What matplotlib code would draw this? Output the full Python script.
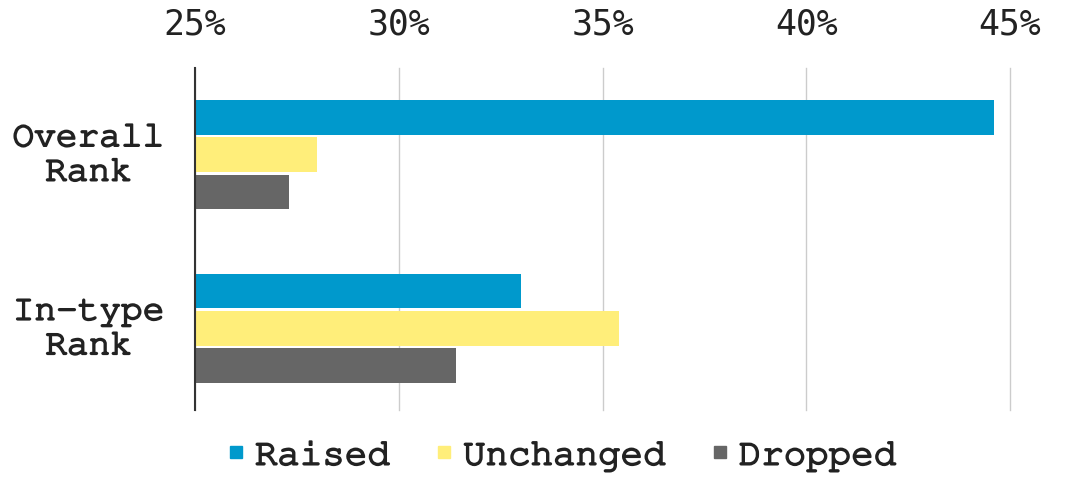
import matplotlib.pyplot as plt
import matplotlib.patheffects as pe
from matplotlib.lines import Line2D

# datos
categorias = ['Overall\nRank', 'In-type\nRank']
series = ['Raised', 'Unchanged', 'Dropped']
raised = [44.6, 33.0]
unchanged = [28.0, 35.4]
dropped = [27.3, 31.4]
colores = ['#0099cc', '#ffee7a', '#666666']
ticks_x = [25, 30, 35, 40, 45]

mono = ['Nimbus Mono PS', 'FreeMono', 'Courier New', 'Liberation Mono']
trazo = [pe.withStroke(linewidth=1.3, foreground='#222222')]

fig = plt.figure(figsize=(10.8, 5), dpi=100)
ax = fig.add_axes([0.1806, 0.18, 0.7546, 0.684])

alto = 0.2
paso = 0.215
valores = [raised, unchanged, dropped]
for i, (nombre, vals, c) in enumerate(zip(series, valores, colores)):
    ys = [k + (i - 1) * paso for k in range(len(categorias))]
    ax.barh(ys, [v - 25 for v in vals], left=25, height=alto, color=c, label=nombre, zorder=3)

ax.set_xlim(25, 45)
ax.set_ylim(1.47, -0.5)
ax.set_xticks(ticks_x)
ax.set_xticklabels([f'{t}%' for t in ticks_x], family='DejaVu Sans Mono', fontsize=25, color='#222222')
ax.xaxis.tick_top()
ax.tick_params(axis='x', length=0, pad=19)
ax.set_yticks([k - 0.03 for k in range(len(categorias))])
ax.set_yticklabels(categorias, family=mono, fontsize=26, linespacing=1.25, color='#222222')
for t in ax.get_yticklabels():
    t.set_multialignment('center')
    t.set_path_effects(trazo)
ax.tick_params(axis='y', length=0, pad=22)

ax.grid(axis='x', color='#cccccc', linewidth=1, zorder=0)
for g in ax.get_xgridlines():
    g.set_clip_on(False)
for s in ['top', 'right', 'bottom']:
    ax.spines[s].set_visible(False)
ax.spines['left'].set_color('#333333')
ax.spines['left'].set_linewidth(1.5)
ax.spines['left'].set_zorder(4)

handles = [Line2D([], [], marker='s', linestyle='none', markersize=9, color=c) for c in colores]
leg = fig.legend(handles, series, loc='center', bbox_to_anchor=(0.52, 0.09), ncol=3, frameon=False,
                 prop={'family': mono, 'size': 27}, handlelength=0.5,
                 handletextpad=0.25, columnspacing=1.2)
for t in leg.get_texts():
    t.set_color('#222222')
    t.set_path_effects(trazo)

plt.savefig('out.png')
